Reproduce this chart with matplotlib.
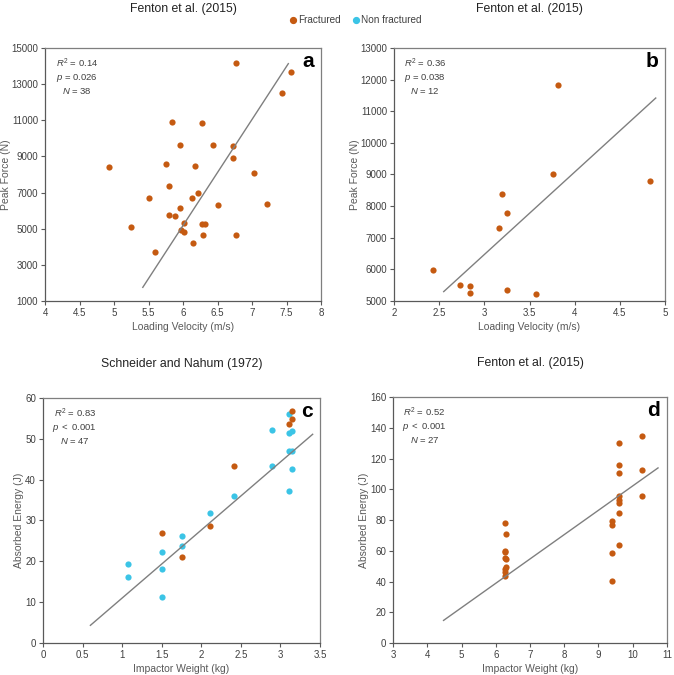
import numpy as np
import matplotlib
matplotlib.use("Agg")
import matplotlib.pyplot as plt
from matplotlib.lines import Line2D

plt.rcParams['font.family'] = ['Liberation Sans', 'DejaVu Sans']
plt.rcParams['mathtext.fontset'] = 'custom'
plt.rcParams['mathtext.rm'] = 'Liberation Sans'
plt.rcParams['mathtext.it'] = 'Liberation Sans:italic'

ORANGE = '#C55A11'
CYAN = '#3BC4E6'
LINE = '#7F7F7F'
TXT = '#404040'

# ---- Panel a: Fenton et al. (2015), loading velocity vs peak force
a_vel = [4.92, 5.24, 5.51, 5.59, 5.76, 5.79, 5.79, 5.84, 5.89, 5.95, 5.95, 5.97,
         6.02, 6.02, 6.15, 6.13, 6.18, 6.22, 6.28, 6.27, 6.32, 6.29, 6.43, 6.50,
         6.73, 6.72, 6.77, 6.77, 7.03, 7.22, 7.44, 7.57]
a_force = [8420, 5080, 6720, 3720, 8570, 7370, 5740, 10880, 5690, 9620, 6160, 4920,
           5300, 4830, 4210, 6700, 8460, 6960, 10840, 5280, 5240, 4660, 9620, 6290,
           9560, 8920, 14170, 4660, 8060, 6370, 12510, 13680]
a_fit = dict(x0=5.417, x1=7.526, slope=5869.0, intercept=-30037.0)
a_stats = ["0.14", "= 0.026", "38"]

# ---- Panel b: Fenton et al. (2015)
b_vel = [2.43, 2.73, 2.84, 2.84, 3.16, 3.19, 3.25, 3.25, 3.57, 3.76, 3.81, 4.83]
b_force = [5970, 5520, 5470, 5240, 7300, 8380, 7780, 5350, 5230, 9000, 11830, 8780]
b_fit = dict(x0=2.55, x1=4.897, slope=2608.0, intercept=-1354.0)
b_stats = ["0.36", "= 0.038", "12"]

# ---- Panel c: Schneider and Nahum (1972)
c_w_non = [1.08, 1.08, 1.50, 1.50, 1.50, 1.76, 1.76, 2.11, 2.41, 2.89, 2.89, 3.11,
           3.11, 3.14, 3.11, 3.14, 3.14, 3.11]
c_e_non = [19.4, 16.2, 22.4, 18.0, 11.2, 26.3, 23.8, 31.8, 36.1, 52.1, 43.4, 56.1,
           51.4, 51.9, 46.9, 46.9, 42.6, 37.3]
c_w_frac = [1.50, 1.76, 2.11, 2.41, 3.11, 3.14, 3.14]
c_e_frac = [27.0, 21.0, 28.7, 43.3, 53.6, 56.7, 54.9]
c_fit = dict(x0=0.599, x1=3.407, slope=16.66, intercept=-5.65)
c_stats = ["0.83", "< 0.001", "47"]

# ---- Panel d: Fenton et al. (2015)
d_w = [6.28, 6.31, 6.26, 6.28, 6.26, 6.31, 6.28, 6.31, 6.28, 6.28,
       9.39, 9.39, 9.39, 9.39, 9.60, 9.60, 9.60, 9.60, 9.60, 9.60, 9.60, 9.60,
       10.27, 10.27, 10.27]
d_e = [78.1, 70.9, 60.1, 59.0, 55.6, 54.9, 48.4, 49.7, 46.3, 43.7,
       79.1, 77.0, 58.4, 40.6, 130.4, 115.5, 110.3, 95.8, 93.0, 91.2, 84.5, 63.6,
       134.5, 112.6, 95.4]
d_fit = dict(x0=4.476, x1=10.738, slope=15.84, intercept=-56.2)
d_stats = ["0.52", "< 0.001", "27"]

fig = plt.figure(figsize=(6.74, 6.75), dpi=100)

def style(ax, xlim, xticks, xtl, ylim, yticks, xlabel, ylabel, title, title_pad,
          letter, stats, italic_p):
    ax.set_xlim(*xlim)
    ax.set_ylim(*ylim)
    ax.set_xticks(xticks)
    ax.set_xticklabels(xtl)
    ax.set_yticks(yticks)
    for s in ax.spines.values():
        s.set_color('#7F7F7F')
        s.set_linewidth(0.9)
    ax.spines['left'].set_color('#595959')
    ax.spines['bottom'].set_color('#595959')
    ax.tick_params(direction='out', length=3, width=0.8, color='#595959',
                   labelsize=7, labelcolor=TXT, pad=2)
    ax.set_xlabel(xlabel, fontsize=7.5, color='#595959', labelpad=3)
    ax.set_ylabel(ylabel, fontsize=7.5, color='#595959', labelpad=0.5)
    ax.set_title(title, fontsize=8.8, color='#222222', pad=title_pad)
    ax.text(0.975, 0.945, letter, transform=ax.transAxes, ha='right', va='center',
            fontsize=15, fontweight='bold', color='black')
    if italic_p:
        pline = r"$\mathit{p\ " + stats[1].replace(' ', r'\ ') + "}$"
    else:
        pline = r"$\mathit{p}$ " + stats[1]
    block = (r"$\mathit{R}^2$ = " + stats[0] + "\n" + pline + "\n" +
             r"$\mathit{N}$ = " + stats[2])
    ax.text(0.115, 0.965, block, transform=ax.transAxes, ha='center', va='top',
            multialignment='center', fontsize=6.8, color=TXT, linespacing=1.25)

def fitline(ax, f):
    x = np.array([f['x0'], f['x1']])
    ax.plot(x, f['slope'] * x + f['intercept'], color=LINE, lw=1.0, zorder=3)

S = 20

# a
ax = fig.add_axes([0.0668, 0.5541, 0.4095, 0.3748])
ax.scatter(a_vel, a_force, s=S, color=ORANGE, zorder=2, linewidths=0)
fitline(ax, a_fit)
style(ax, (4, 8), np.arange(4, 8.01, 0.5), ['4', '4.5', '5', '5.5', '6', '6.5', '7', '7.5', '8'],
      (1000, 15000), np.arange(1000, 15001, 2000), 'Loading Velocity (m/s)', 'Peak Force (N)',
      'Fenton et al. (2015)', 26, 'a', a_stats, False)

# b
ax = fig.add_axes([0.5846, 0.5541, 0.4021, 0.3748])
ax.scatter(b_vel, b_force, s=S, color=ORANGE, zorder=2, linewidths=0)
fitline(ax, b_fit)
style(ax, (2, 5), np.arange(2, 5.01, 0.5), ['2', '2.5', '3', '3.5', '4', '4.5', '5'],
      (5000, 13000), np.arange(5000, 13001, 1000), 'Loading Velocity (m/s)', 'Peak Force (N)',
      'Fenton et al. (2015)', 26, 'b', b_stats, False)

# c
ax = fig.add_axes([0.0638, 0.0474, 0.4110, 0.3630])
ax.scatter(c_w_non, c_e_non, s=S, color=CYAN, zorder=2, linewidths=0)
ax.scatter(c_w_frac, c_e_frac, s=S, color=ORANGE, zorder=2, linewidths=0)
fitline(ax, c_fit)
style(ax, (0, 3.5), np.arange(0, 3.51, 0.5), ['0', '0.5', '1', '1.5', '2', '2.5', '3', '3.5'],
      (0, 60), np.arange(0, 61, 10), 'Impactor Weight (kg)', 'Absorbed Energy (J)',
      'Schneider and Nahum (1972)', 22, 'c', c_stats, True)

# d
ax = fig.add_axes([0.5831, 0.0474, 0.4065, 0.3644])
ax.scatter(d_w, d_e, s=S, color=ORANGE, zorder=2, linewidths=0)
fitline(ax, d_fit)
style(ax, (3, 11), np.arange(3, 11.01, 1), [str(v) for v in range(3, 12)],
      (0, 160), np.arange(0, 161, 20), 'Impactor Weight (kg)', 'Absorbed Energy (J)',
      'Fenton et al. (2015)', 22, 'd', d_stats, True)

handles = [Line2D([], [], marker='o', ls='', color=ORANGE, markersize=4.2),
           Line2D([], [], marker='o', ls='', color=CYAN, markersize=4.2)]
fig.legend(handles, ['Fractured', 'Non fractured'], loc='center', bbox_to_anchor=(0.526, 0.970),
           ncol=2, frameon=False, fontsize=7.2, handletextpad=0.0, columnspacing=1.0,
           handlelength=1.0, labelcolor=TXT)

fig.savefig('out.png', dpi=100)
